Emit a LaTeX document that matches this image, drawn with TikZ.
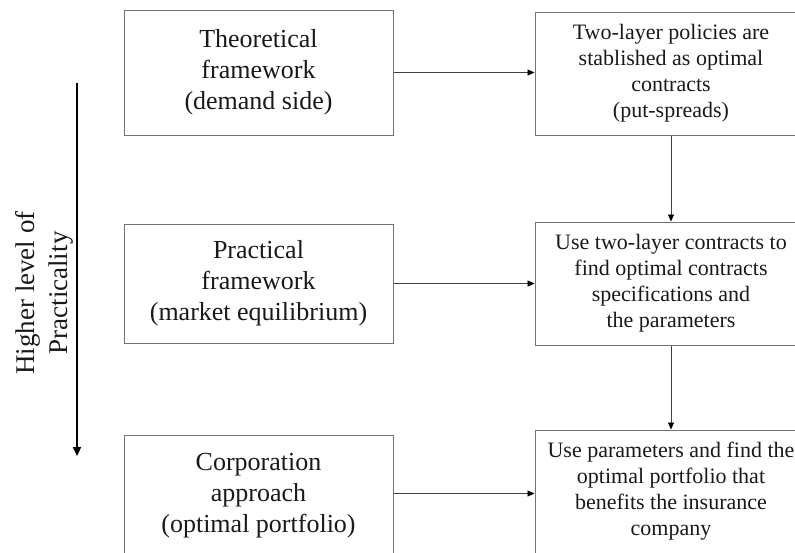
\documentclass[tikz,border=0pt]{standalone}
\usepackage{fontspec}
\setmainfont{Liberation Serif}
\usetikzlibrary{arrows.meta}
\begin{document}
\begin{tikzpicture}[x=1pt,y=-1pt,
  leftbox/.style={draw=black!55,line width=1pt,rectangle,minimum width=269pt,inner sep=0pt,align=center,text=black!90,font=\fontsize{26}{31}\selectfont},
  rightbox/.style={draw=black!55,line width=1pt,rectangle,minimum width=272pt,minimum height=123pt,inner sep=0pt,align=center,text=black!90,font=\fontsize{22}{26}\selectfont},
  conn/.style={draw=black!75,line width=0.9pt,-{Triangle[length=7pt,width=6pt,fill=black,color=black]}},
  bigarrow/.style={draw=black,line width=2.6pt,-{Triangle[length=9pt,width=8pt]}},
  lbl/.style={rotate=90,align=center,text=black!90,font=\fontsize{27}{33}\selectfont}
]
\useasboundingbox (0,0) rectangle (795,552);
\clip (0,0) rectangle (795,552);

\node[leftbox,minimum height=125pt] (L1) at (258.5,72.5) {Theoretical\\framework\\(demand side)};
\node[leftbox,minimum height=119pt] (L2) at (258.5,283.5) {Practical\\framework\\(market equilibrium)};
\node[leftbox,minimum height=121pt] (L3) at (258.5,495.5) {Corporation\\approach\\(optimal portfolio)};

\node[rightbox] (R1) at (671,73.5) {Two-layer policies are\\stablished as optimal\\contracts\\(put-spreads)};
\node[rightbox] (R2) at (671,283.5) {Use two-layer contracts to\\find optimal contracts\\specifications and\\the parameters};
\node[rightbox] (R3) at (671,491.5) {Use parameters and find the\\optimal portfolio that\\benefits the insurance\\company};

\draw[conn] (L1.east) -- (L1.east -| R1.west);
\draw[conn] (L2.east) -- (L2.east -| R2.west);
\draw[conn] ([yshift=2pt]L3.east) -- ([yshift=2pt]L3.east -| R3.west);
\draw[conn] (R1.south) -- (R2.north);
\draw[conn] (R2.south) -- (R3.north);

\coordinate (Atop) at (77,83);
\coordinate (Abot) at (77,456);
\draw[bigarrow] (Atop) -- (Abot);

\node[lbl] (label) at (44,293) {Higher level of\\Practicality};
\end{tikzpicture}
\end{document}
